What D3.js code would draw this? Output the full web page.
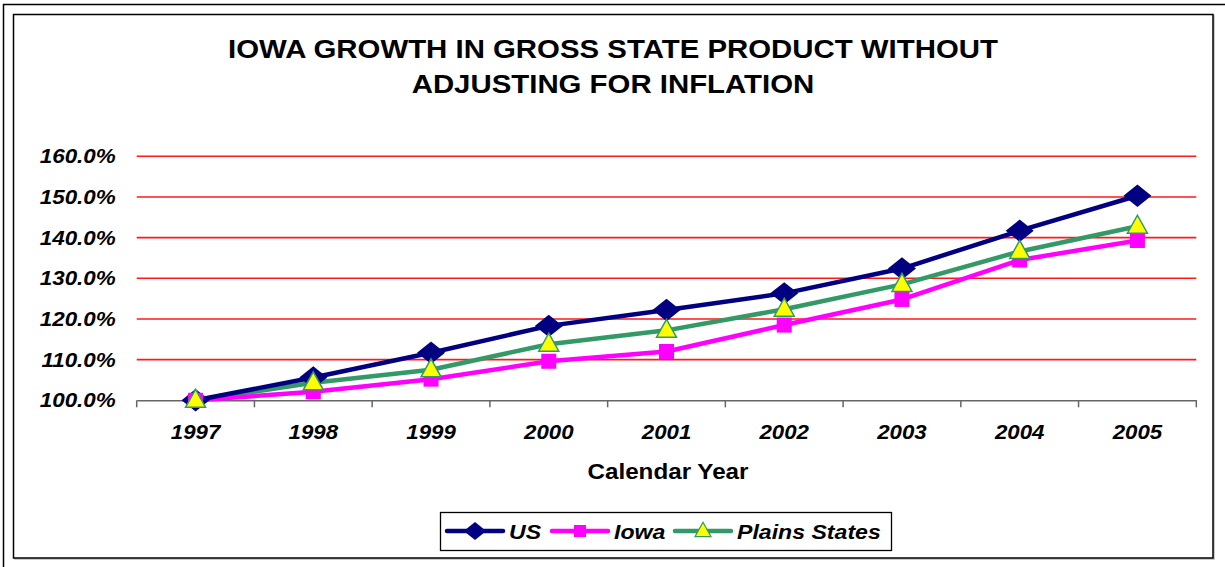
<!DOCTYPE html>
<html>
<head>
<meta charset="utf-8">
<script src="https://cdn.jsdelivr.net/npm/d3@7"></script>
<style>
  body { margin: 0; background: #fff; }
  text { font-family: "Liberation Sans", Arial, sans-serif; font-weight: bold; }
</style>
</head>
<body>
<div id="chart"></div>
<script>
// Chart data
var years = ["1997", "1998", "1999", "2000", "2001", "2002", "2003", "2004", "2005"];
var usValues = [100.0, 105.6, 111.7, 118.3, 122.2, 126.3, 132.4, 141.7, 150.3];
var iowaValues = [100.0, 102.1, 105.2, 109.6, 112.0, 118.5, 124.8, 134.5, 139.3];
var plainsValues = [100.0, 104.3, 107.5, 113.8, 117.2, 122.4, 128.5, 136.6, 142.8];
var yTicks = [100, 110, 120, 130, 140, 150, 160];
var titleLines = ["IOWA GROWTH IN GROSS STATE PRODUCT WITHOUT", "ADJUSTING FOR INFLATION"];

var svgWidth = 1225;
var svgHeight = 567;

var svg = d3.select("#chart")
    .append("svg")
    .attr("width", svgWidth)
    .attr("height", svgHeight);

// the original chart text is a bit wider than the font, stretch it
function stretch(sel, k) {
    sel.each(function() {
        var len = this.getComputedTextLength();
        d3.select(this)
            .attr("textLength", len * k)
            .attr("lengthAdjust", "spacingAndGlyphs");
    });
}

// Outer frame (runs off the right/bottom edge)
svg.append("rect")
    .attr("x", 3.5).attr("y", 4.5)
    .attr("width", 1240).attr("height", 600)
    .attr("fill", "none").attr("stroke", "#000").attr("stroke-width", 1.5);

// Inner chart frame with a light shadow
svg.append("rect")
    .attr("x", 15).attr("y", 16)
    .attr("width", 1199).attr("height", 543)
    .attr("fill", "none").attr("stroke", "#bbb").attr("stroke-width", 1.5);
svg.append("rect")
    .attr("x", 13.5).attr("y", 14.5)
    .attr("width", 1199.5).attr("height", 543.5)
    .attr("fill", "#fff").attr("stroke", "#000").attr("stroke-width", 1.5);

// Plot area
var margin = { top: 156.3, left: 136.7 };
var width = 1196.3 - 136.7;
var height = 400.3 - 156.3;

var chartGroup = svg.append("g")
    .attr("transform", `translate(${margin.left}, ${margin.top})`);

var xScale = d3.scaleBand()
    .domain(years)
    .range([0, width]);

var yScale = d3.scaleLinear()
    .domain([100, 160])
    .range([height, 0]);

// Red gridlines
chartGroup.append("g")
    .selectAll("line")
    .data(yTicks.filter(d => d > 100))
    .enter()
    .append("line")
    .attr("x1", 0).attr("x2", width)
    .attr("y1", d => yScale(d)).attr("y2", d => yScale(d))
    .attr("stroke", "#ff1a1a").attr("stroke-width", 1.6);

// Y axis labels (no axis line)
var leftAxis = d3.axisLeft(yScale)
    .tickValues(yTicks)
    .tickSize(0)
    .tickPadding(21)
    .tickFormat(d => d.toFixed(1) + "%");

var yAxisG = chartGroup.append("g").call(leftAxis);
yAxisG.select(".domain").remove();
yAxisG.selectAll("text")
    .attr("font-size", 20)
    .attr("font-style", "italic")
    .attr("font-family", "Liberation Sans, Arial, sans-serif")
    .attr("fill", "#000")
    .call(stretch, 1.12);

// X axis with ticks between categories
var bottomAxis = d3.axisBottom(xScale).tickSize(0).tickPadding(24);
var xAxisG = chartGroup.append("g")
    .attr("transform", `translate(0, ${height})`)
    .call(bottomAxis);
xAxisG.select(".domain").attr("stroke", "#666").attr("stroke-width", 1.5);
xAxisG.selectAll("text")
    .attr("font-size", 21)
    .attr("font-style", "italic")
    .attr("font-family", "Liberation Sans, Arial, sans-serif")
    .attr("fill", "#000")
    .call(stretch, 1.06);

var bounds = years.map(d => xScale(d)).concat([width]);
xAxisG.append("g")
    .selectAll("line")
    .data(bounds)
    .enter()
    .append("line")
    .attr("x1", d => d).attr("x2", d => d)
    .attr("y1", 0).attr("y2", 7)
    .attr("stroke", "#666").attr("stroke-width", 1.5);

// Series
var series = [
    { name: "US", values: usValues, color: "#000080", marker: "diamond" },
    { name: "Iowa", values: iowaValues, color: "#ff00ff", marker: "square" },
    { name: "Plains States", values: plainsValues, color: "#339966", marker: "triangle" }
];

var cx = d => xScale(d) + xScale.bandwidth() / 2;

var lineGen = d3.line()
    .x((d, i) => cx(years[i]))
    .y(d => yScale(d));

function drawMarker(g, type, color, size) {
    if (type === "diamond") {
        g.append("path")
            .attr("d", d3.symbol().type(d3.symbolDiamond2).size(size * 1.6)())
            .attr("transform", "scale(1.25, 1)")
            .attr("fill", color);
    } else if (type === "square") {
        g.append("rect")
            .attr("x", -7.5).attr("y", -7.5)
            .attr("width", 15).attr("height", 15)
            .attr("fill", color);
    } else {
        g.append("path")
            .attr("d", "M0,-11 L10,7 L-10,7 Z")
            .attr("fill", "#ffff00")
            .attr("stroke", color).attr("stroke-width", 1.5);
    }
}

// draw lines first (US on top of the others as in the source)
var drawOrder = [series[2], series[1], series[0]];
drawOrder.forEach(function(s) {
    chartGroup.append("path")
        .datum(s.values)
        .attr("d", lineGen)
        .attr("fill", "none")
        .attr("stroke", s.color)
        .attr("stroke-width", 4.5)
        .attr("stroke-linejoin", "round");
});

[series[0], series[1], series[2]].forEach(function(s) {
    s.values.forEach(function(v, i) {
        var g = chartGroup.append("g")
            .attr("transform", `translate(${cx(years[i])}, ${yScale(v)})`);
        drawMarker(g, s.marker, s.color, 200);
    });
});

// Title
svg.append("g")
    .selectAll("text")
    .data(titleLines)
    .enter()
    .append("text")
    .attr("x", 613)
    .attr("y", (d, i) => 58 + i * 35)
    .attr("text-anchor", "middle")
    .attr("font-size", 26)
    .attr("fill", "#000")
    .text(d => d)
    .call(stretch, 1.13);

// X axis title
svg.append("text")
    .attr("x", 668)
    .attr("y", 479)
    .attr("text-anchor", "middle")
    .attr("font-size", 22)
    .text("Calendar Year")
    .call(stretch, 1.1);

// Legend
var legend = svg.append("g");
legend.append("rect")
    .attr("x", 440.5).attr("y", 512.5)
    .attr("width", 451).attr("height", 38)
    .attr("fill", "#fff").attr("stroke", "#000").attr("stroke-width", 1.3);

var legendX = [447, 552, 675];
series.forEach(function(s, i) {
    var item = legend.append("g").attr("transform", `translate(${legendX[i]}, 531)`);
    item.append("line")
        .attr("x1", 0).attr("x2", 56)
        .attr("y1", 0).attr("y2", 0)
        .attr("stroke", s.color).attr("stroke-width", 4.5)
        .attr("stroke-linecap", "round");
    var m = item.append("g").attr("transform", "translate(28, 0) scale(0.8)");
    drawMarker(m, s.marker, s.color, 200);
    item.append("text")
        .attr("x", 62)
        .attr("y", 8)
        .attr("font-size", 21)
        .attr("font-style", "italic")
        .attr("fill", "#000")
        .text(s.name)
        .call(stretch, 1.1);
});
</script>
</body>
</html>
